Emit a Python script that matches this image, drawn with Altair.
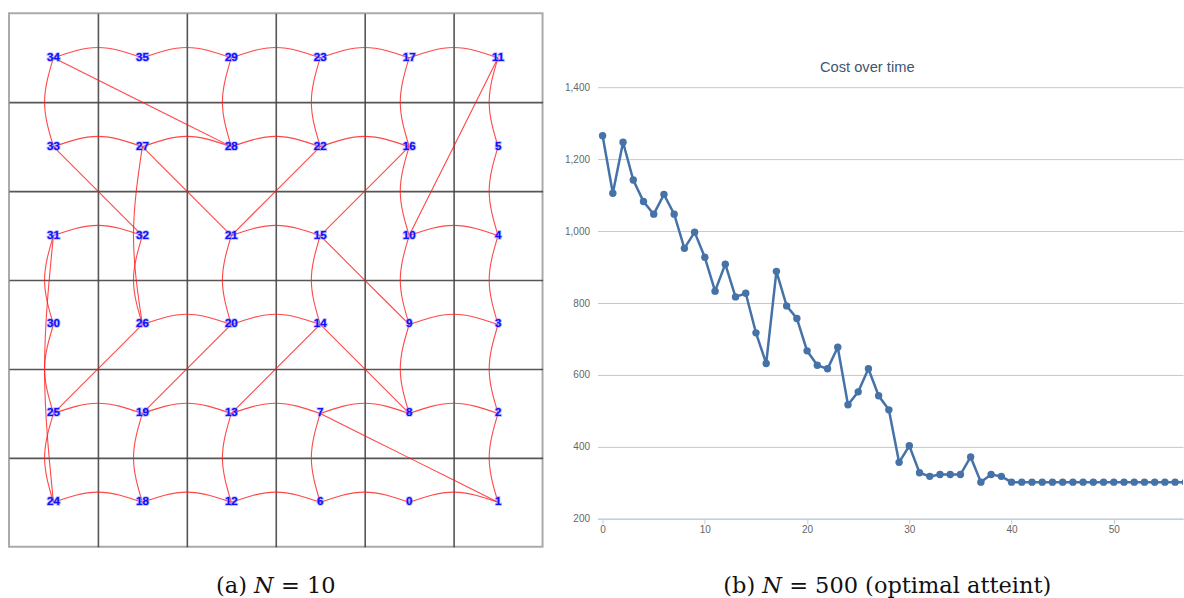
import altair as alt
import pandas as pd

# ---------------- data: left panel (grid graph) ----------------
grid_rows = [
    [34, 35, 29, 23, 17, 11],
    [33, 27, 28, 22, 16, 5],
    [31, 32, 21, 15, 10, 4],
    [30, 26, 20, 14, 9, 3],
    [25, 19, 13, 7, 8, 2],
    [24, 18, 12, 6, 0, 1],
]
curved_edges = [
    (34, 35), (35, 29), (29, 23), (23, 17), (17, 11),
    (33, 27), (27, 28), (28, 22), (22, 16),
    (31, 32), (21, 15), (10, 4),
    (26, 20), (20, 14), (9, 3),
    (25, 19), (19, 13), (13, 7), (7, 8), (8, 2),
    (24, 18), (18, 12), (12, 6), (6, 0), (0, 1),
    (34, 33), (29, 28), (23, 22), (17, 16), (11, 5),
    (16, 10), (5, 4), (31, 30), (30, 25), (25, 24), (31, 24),
    (27, 26), (32, 26), (21, 20), (15, 14), (10, 9), (4, 3),
    (9, 8), (3, 2), (2, 1), (19, 18), (13, 12), (7, 6),
]
straight_edges = [
    (34, 28), (33, 32), (27, 21), (22, 21), (16, 15), (11, 10),
    (15, 9), (26, 25), (20, 19), (14, 13), (14, 8), (7, 1),
]
grid_bounds = [1, 2, 3, 4, 5]

# ---------------- data: right panel (cost over time) ----------------
steps = list(range(58))
cost = [1265, 1105, 1247, 1142, 1082, 1047, 1102, 1047, 952, 997,
        927, 833, 908, 817, 827, 717, 632, 888, 792, 757,
        667, 627, 617, 677, 517, 553, 617, 542, 503, 357,
        403, 328, 318, 323, 323, 323, 372, 302, 323, 318,
        302, 302, 302, 302, 302, 302, 302, 302, 302, 302,
        302, 302, 302, 302, 302, 302, 302, 302]
y_ticks = [200, 400, 600, 800, 1000, 1200, 1400]
x_ticks = [0, 10, 20, 30, 40, 50]

# ---------------- build tables ----------------
pos = {}
for r, row in enumerate(grid_rows):
    for c, nid in enumerate(row):
        pos[nid] = (c + 0.5, r + 0.5)

nodes_df = pd.DataFrame(
    [{"id": str(n), "x": p[0], "y": p[1]} for n, p in pos.items()]
)

BULGE_H = 0.115  # upward bulge of horizontal arcs (cell units)
BULGE_V = 0.10   # leftward bulge of vertical arcs

rows = []
for i, (a, b) in enumerate(curved_edges + straight_edges):
    (xa, ya), (xb, yb) = pos[a], pos[b]
    mx, my = (xa + xb) / 2, (ya + yb) / 2
    if i < len(curved_edges):
        if ya == yb:
            my -= BULGE_H
        elif xa == xb:
            mx -= BULGE_V
    for k, (x, y) in enumerate([(xa, ya), (mx, my), (xb, yb)]):
        rows.append({"edge": i, "k": k, "x": x, "y": y})
edges_df = pd.DataFrame(rows)

cost_df = pd.DataFrame({"t": steps, "cost": cost})

CAPTION = dict(orient="bottom", anchor="middle", font="DejaVu Serif",
               fontSize=22.5, fontWeight="normal", color="#111111")

# ---------------- left chart ----------------
xs = alt.Scale(domain=[0, 6], nice=False, zero=False)
ys = alt.Scale(domain=[0, 6], nice=False, zero=False, reverse=True)
grid_axis = dict(values=grid_bounds, grid=True, gridColor="#444444", gridWidth=1.6,
                 gridOpacity=0.9, labels=False, ticks=False, domain=False, title="")

edges = alt.Chart(edges_df).mark_line(
    interpolate="natural", color="#ff1a1a", strokeWidth=1.1, opacity=0.8
).encode(
    x=alt.X("x:Q", scale=xs, axis=alt.Axis(**grid_axis)),
    y=alt.Y("y:Q", scale=ys, axis=alt.Axis(**grid_axis)),
    detail="edge:N",
    order="k:Q",
)
halo = alt.Chart(nodes_df).mark_text(
    font="Liberation Sans", fontSize=11.5, fontWeight="bold",
    stroke="#8080ff", strokeWidth=2, strokeOpacity=0.45, fill="#8080ff"
).encode(x=alt.X("x:Q", scale=xs), y=alt.Y("y:Q", scale=ys), text="id:N")
labels = alt.Chart(nodes_df).mark_text(
    font="Liberation Sans", fontSize=11.5, fontWeight="bold", color="#1010ff"
).encode(x=alt.X("x:Q", scale=xs), y=alt.Y("y:Q", scale=ys), text="id:N")

left = alt.layer(edges, halo, labels).properties(
    width=534, height=534,
    view=alt.ViewBackground(stroke="#aaaaaa", strokeWidth=2),
    title=alt.TitleParams("(a) 𝑁 = 10", offset=28, **CAPTION),
)

# ---------------- right chart ----------------
xr = alt.Scale(domain=[-0.5, 56.77], nice=False, zero=False)
yr = alt.Scale(domain=[200, 1605.6], nice=False, zero=False)

line = alt.Chart(cost_df).mark_line(
    color="#4572A7", strokeWidth=2.5, clip=True
).encode(
    x=alt.X("t:Q", scale=xr, axis=alt.Axis(
        values=x_ticks, grid=False, tickSize=5, tickColor="#C0D0E0",
        domainColor="#C0D0E0", domainWidth=1.5, labelColor="#666666",
        labelFont="Liberation Sans", labelFontSize=10, labelPadding=1, title="")),
    y=alt.Y("cost:Q", scale=yr, axis=alt.Axis(
        values=y_ticks, grid=True, gridColor="#C8C8C8", domain=False, ticks=False,
        format=",.0f", labelColor="#666666", labelFont="Liberation Sans",
        labelFontSize=10, labelPadding=8, title="")),
)
points = alt.Chart(cost_df).mark_point(
    filled=True, size=55, color="#4572A7", opacity=1, clip=True
).encode(x=alt.X("t:Q", scale=xr), y=alt.Y("cost:Q", scale=yr))

right_plot = alt.layer(line, points).properties(
    width=586, height=506,
    view=alt.ViewBackground(stroke="transparent"),
    title=alt.TitleParams(
        "Cost over time", orient="top", anchor="middle", offset=-62, dx=-23,
        font="Liberation Sans", fontSize=14.7, fontWeight="normal", color="#3E576F",
    ),
)
right = alt.vconcat(right_plot, bounds="flush").properties(
    title=alt.TitleParams("(b) 𝑁 = 500 (optimal atteint)", offset=40, dx=290,
                          frame="group", **CAPTION),
)

chart = alt.hconcat(left, right, spacing=55, bounds="flush").properties(
    padding={"left": 8, "top": 12, "right": 0, "bottom": 4},
    background="white",
)

chart.save("out.html", embed_options={"renderer": "svg", "actions": False})
